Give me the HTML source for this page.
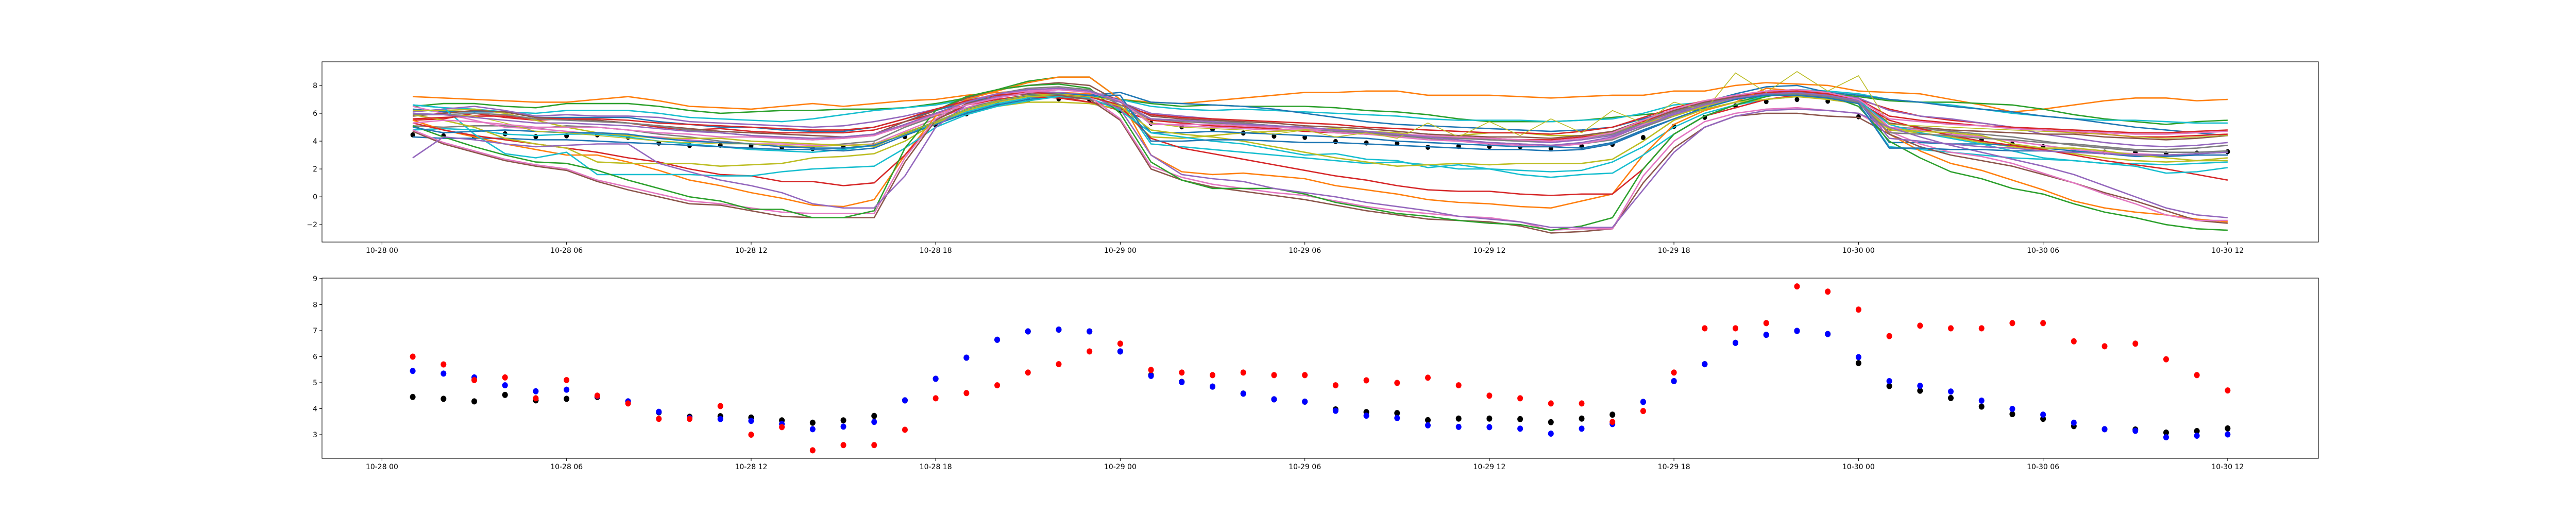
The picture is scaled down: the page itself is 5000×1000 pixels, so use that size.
<!DOCTYPE html>
<html><head><meta charset="utf-8">
<style>
html,body{margin:0;padding:0;background:#fff;}
svg{display:block;font-family:"DejaVu Sans","Liberation Sans",sans-serif;}
</style></head>
<body>
<svg id="chart" width="5000" height="1000" viewBox="0 0 5000 1000" xmlns="http://www.w3.org/2000/svg">
<rect x="0" y="0" width="5000" height="1000" fill="#fff"/>
<g id="top"></g>
<g id="bot"></g>
</svg>
<script>
// ---- data ----
const xTickLabels = ["10-28 00","10-28 06","10-28 12","10-28 18","10-29 00","10-29 06","10-29 12","10-29 18","10-30 00","10-30 06","10-30 12"];
const xTickHours = [0,6,12,18,24,30,36,42,48,54,60];
const hours = Array.from({length:60},(_,i)=>i+1); // 10-28 01 .. 10-30 12 hourly
const topYTicks = [-2,0,2,4,6,8];
const botYTicks = [3,4,5,6,7,8,9];

const meanValues = [4.45,4.38,4.28,4.53,4.32,4.38,4.45,4.28,3.86,3.69,3.71,3.66,3.55,3.46,3.55,3.72,4.32,5.15,5.96,6.65,6.97,7.04,6.97,6.2,5.29,5.03,4.85,4.58,4.36,4.27,3.97,3.87,3.83,3.56,3.62,3.62,3.6,3.48,3.62,3.77,4.26,5.06,5.71,6.53,6.84,6.99,6.87,5.75,4.87,4.69,4.41,4.08,3.79,3.61,3.33,3.21,3.2,3.08,3.14,3.24];
const blueValues = [5.45,5.35,5.2,4.9,4.67,4.73,4.48,4.28,3.88,3.64,3.6,3.53,3.41,3.21,3.31,3.49,4.32,5.15,5.96,6.65,6.97,7.04,6.97,6.2,5.26,5.02,4.85,4.58,4.36,4.27,3.92,3.73,3.64,3.36,3.3,3.29,3.23,3.04,3.23,3.41,4.26,5.06,5.71,6.53,6.84,6.99,6.87,5.98,5.06,4.88,4.66,4.31,3.99,3.77,3.46,3.21,3.15,2.9,2.96,3.01];
const redValues = [6.0,5.7,5.1,5.2,4.4,5.1,4.5,4.2,3.61,3.61,4.1,3.0,3.29,2.4,2.6,2.6,3.19,4.4,4.6,4.9,5.39,5.71,6.2,6.5,5.49,5.39,5.29,5.39,5.29,5.29,4.9,5.09,4.99,5.19,4.9,4.5,4.4,4.2,4.2,3.49,3.91,5.39,7.09,7.09,7.29,8.7,8.5,7.81,6.79,7.19,7.09,7.09,7.29,7.29,6.59,6.4,6.5,5.9,5.29,4.7];

const s01 = [7.2,7.1,7.0,6.9,6.8,6.8,7.0,7.2,6.9,6.5,6.4,6.3,6.5,6.7,6.5,6.7,6.9,7.0,7.3,7.5,7.6,7.5,7.4,7.0,6.8,6.7,6.9,7.1,7.3,7.5,7.5,7.6,7.6,7.3,7.3,7.3,7.2,7.1,7.2,7.3,7.3,7.6,7.6,8.0,8.2,8.1,8.0,7.6,7.5,7.4,7.0,6.6,6.1,6.3,6.6,6.9,7.1,7.1,6.9,7.0];
const s02 = [6.5,6.7,6.7,6.5,6.4,6.7,6.7,6.7,6.5,6.2,6.0,6.1,6.2,6.2,6.3,6.3,6.4,6.7,7.1,7.7,8.3,8.6,8.6,7.0,6.7,6.5,6.6,6.5,6.5,6.5,6.4,6.2,6.1,5.9,5.6,5.4,5.4,5.4,5.5,5.7,5.9,6.1,6.3,6.8,7.3,7.5,7.4,7.2,6.9,6.8,6.8,6.7,6.6,6.3,5.9,5.6,5.4,5.2,5.4,5.5];
const s03 = [6.6,6.4,6.3,6.1,6.0,6.2,6.2,6.2,6.0,5.7,5.6,5.5,5.4,5.6,5.9,6.2,6.4,6.6,7.0,7.3,7.5,7.4,7.2,7.0,6.5,6.3,6.2,6.3,6.2,6.1,6.0,5.9,5.8,5.6,5.5,5.5,5.5,5.4,5.5,5.6,6.0,6.6,6.8,7.2,7.6,7.7,7.6,7.4,7.0,6.8,6.6,6.3,6.0,5.8,5.6,5.5,5.5,5.4,5.3,5.3];
const s04 = [6.3,6.1,6.1,6.1,5.7,5.7,5.7,5.7,5.4,5.2,5.0,5.0,4.8,4.7,4.7,5.0,5.6,6.2,6.8,7.2,7.4,7.2,7.3,7.5,6.8,6.7,6.6,6.5,6.3,6.0,5.7,5.4,5.2,5.1,5.0,4.9,4.8,4.7,4.8,5.0,5.6,6.2,6.8,7.4,7.9,8.0,7.5,7.3,7.0,6.8,6.5,6.3,6.1,5.8,5.6,5.3,5.0,4.8,4.6,4.4];
const s05 = [5.5,5.6,6.0,5.7,5.5,5.6,5.5,5.3,5.0,4.8,4.9,4.7,4.6,4.6,4.6,4.8,5.4,6.0,6.6,7.0,7.3,7.2,6.8,6.2,5.5,5.3,5.1,5.0,4.9,4.7,4.6,4.5,4.4,4.3,4.2,4.2,4.1,4.1,4.3,4.6,5.4,6.2,6.8,7.3,7.6,7.7,7.5,7.0,6.3,5.8,5.5,5.3,5.0,4.8,4.6,4.5,4.3,4.3,4.4,4.5];
const s06 = [6.1,6.3,6.5,6.2,5.8,5.9,5.8,5.8,5.7,5.4,5.3,5.2,5.1,5.0,5.1,5.4,5.8,6.3,6.9,7.4,7.6,7.5,7.3,6.8,6.0,5.8,5.6,5.3,5.1,4.9,4.8,4.6,4.5,4.4,4.2,4.1,4.0,3.9,4.1,4.4,5.2,6.0,6.7,7.2,7.4,7.6,7.4,7.1,6.2,5.8,5.6,5.3,5.0,4.5,4.2,3.9,3.7,3.6,3.7,3.9];
const s07 = [5.1,5.0,5.1,5.1,4.9,5.1,5.0,4.8,4.5,4.3,4.0,3.8,3.6,3.6,3.8,4.0,5.0,5.8,6.4,6.9,7.2,7.2,7.0,6.4,5.6,5.4,5.3,5.2,5.0,4.9,4.7,4.6,4.4,4.2,4.0,3.9,3.8,3.7,3.8,4.1,5.0,5.8,6.5,7.0,7.3,7.4,7.2,6.8,5.0,4.9,4.7,4.5,4.3,4.0,3.7,3.5,3.3,3.2,3.2,3.3];
const s08 = [6.5,6.0,5.5,5.0,4.9,4.7,4.5,4.4,4.3,4.1,3.9,3.8,3.8,3.7,3.7,3.8,4.7,5.6,6.4,7.1,7.6,7.8,7.6,7.0,5.3,5.1,5.0,4.9,4.8,4.8,4.6,4.5,4.3,4.1,4.0,3.8,3.7,3.6,3.8,4.2,5.2,6.1,6.8,7.2,7.5,7.6,7.4,7.0,5.0,4.8,4.5,4.3,4.0,3.7,3.4,3.2,3.1,3.0,3.0,3.0];
const s09 = [6.2,6.2,6.3,6.0,5.5,5.0,4.6,4.4,4.2,4.2,4.2,4.0,3.9,3.8,3.7,3.6,4.6,5.4,6.0,6.5,6.8,6.8,6.7,6.3,4.3,4.2,4.4,4.6,4.7,4.8,4.9,4.7,4.6,4.3,4.4,4.6,4.6,4.4,4.4,4.6,5.3,5.8,6.5,7.0,7.3,7.3,7.0,6.7,4.8,4.6,4.3,3.9,3.6,3.4,3.1,2.8,2.6,2.5,2.6,2.8];
const s10 = [4.8,4.9,4.8,4.5,4.4,4.5,4.5,4.3,4.0,3.8,3.6,3.4,3.3,3.2,3.4,3.7,4.5,5.3,6.1,6.7,7.1,7.3,7.3,7.0,3.8,3.6,3.4,3.2,3.0,2.8,2.6,2.4,2.5,2.3,2.0,2.0,1.9,1.8,1.9,2.5,3.6,5.0,6.0,6.6,7.0,7.2,7.1,6.7,3.6,3.4,3.2,3.0,2.8,2.7,2.6,2.4,2.4,2.3,2.4,2.5];
const s11 = [4.3,4.2,4.2,4.2,4.1,4.1,4.0,3.9,3.8,3.7,3.6,3.5,3.4,3.4,3.3,3.5,4.4,5.2,6.0,6.6,7.0,7.2,7.2,7.0,4.6,4.6,4.7,4.6,4.5,4.4,4.3,4.2,4.0,3.9,3.8,3.7,3.6,3.6,3.5,3.9,4.8,5.6,6.4,7.0,7.4,7.4,7.2,6.9,3.9,3.9,3.8,3.8,3.7,3.5,3.3,3.1,2.9,2.9,3.0,3.0];
const s12 = [5.8,6.0,6.2,6.1,5.7,5.6,5.5,5.3,5.1,4.9,4.7,4.6,4.5,4.4,4.3,4.5,5.4,6.2,7.1,7.7,8.0,8.2,8.0,6.8,5.8,5.6,5.5,5.4,5.3,5.1,5.0,4.9,4.7,4.5,4.4,4.3,4.3,4.2,4.4,4.7,5.5,6.2,6.8,7.2,7.4,7.5,7.3,6.9,5.3,5.0,4.8,4.7,4.6,4.5,4.5,4.3,4.2,4.1,4.2,4.4];
const s13 = [5.5,4.8,4.3,3.8,3.4,3.0,3.0,2.5,1.9,1.2,0.8,0.3,-0.1,-0.6,-0.7,-0.2,3.0,5.8,7.0,7.6,8.2,8.6,8.6,7.0,3.0,1.8,1.6,1.7,1.5,1.3,0.8,0.5,0.2,-0.2,-0.4,-0.5,-0.7,-0.8,-0.3,0.2,3.0,5.2,6.2,6.8,7.8,7.6,7.5,6.8,4.5,3.3,2.4,1.9,1.2,0.5,-0.3,-0.8,-1.1,-1.3,-1.6,-1.8];
const s14 = [5.3,4.8,4.4,4.1,3.8,3.5,3.2,2.8,2.5,2.0,1.6,1.5,1.1,1.1,0.8,1.0,3.0,5.5,6.6,7.0,7.2,7.1,6.8,6.5,4.2,3.5,3.1,2.7,2.3,1.9,1.5,1.2,0.8,0.5,0.4,0.4,0.2,0.1,0.2,0.2,2.0,4.5,5.8,6.4,7.0,7.3,7.2,6.8,5.5,4.9,4.4,4.0,3.7,3.4,3.0,2.6,2.3,2.0,1.6,1.2];
const s15 = [6.6,6.4,4.5,3.1,2.8,3.2,1.6,1.6,1.6,1.6,1.5,1.5,1.8,2.0,2.1,2.2,3.5,5.0,5.9,6.5,6.9,7.2,7.1,6.2,4.6,4.3,4.0,3.8,3.4,3.0,3.1,2.7,2.6,2.1,2.3,2.0,1.6,1.4,1.6,1.7,3.0,4.5,5.8,6.6,7.3,7.5,7.3,6.9,5.2,4.6,4.2,3.8,3.3,2.8,2.6,2.4,2.2,1.7,1.8,2.1];
const s16 = [5.9,5.5,5.0,4.2,3.8,3.5,2.5,2.4,2.4,2.4,2.2,2.3,2.4,2.8,2.9,3.1,4.0,5.3,6.2,6.8,7.2,7.3,7.2,6.5,4.8,4.5,4.3,4.0,3.6,3.2,2.8,2.5,2.2,2.3,2.4,2.3,2.4,2.4,2.4,2.7,4.0,5.5,6.3,6.8,7.0,7.2,7.0,6.7,4.9,4.7,4.6,4.4,3.8,3.5,3.5,3.3,3.0,2.8,2.6,2.6];
const s17 = [4.7,3.8,3.2,2.6,2.2,1.9,1.1,0.5,0.0,-0.5,-0.6,-1.0,-1.4,-1.5,-1.5,-1.5,2.5,5.5,6.7,7.2,7.4,7.3,7.0,5.5,2.0,1.2,0.7,0.4,0.1,-0.2,-0.6,-1.0,-1.3,-1.6,-1.7,-1.8,-2.1,-2.6,-2.5,-2.3,1.0,3.5,5.0,5.8,6.0,6.0,5.8,5.7,4.5,3.6,3.0,2.6,2.2,1.6,1.0,0.3,-0.3,-1.0,-1.7,-1.9];
const s18 = [4.8,3.9,3.3,2.7,2.3,2.0,1.2,0.7,0.2,-0.3,-0.5,-0.8,-1.1,-1.2,-1.2,-1.2,2.8,5.6,6.9,7.4,7.6,7.5,7.2,5.6,2.2,1.4,0.9,0.6,0.3,0.1,-0.3,-0.7,-1.0,-1.2,-1.4,-1.5,-1.8,-2.4,-2.3,-2.3,1.5,4.0,5.4,6.0,6.3,6.4,6.2,6.0,4.7,3.8,3.2,2.9,2.4,1.7,1.0,0.2,-0.5,-1.3,-1.7,-1.7];
const s19 = [5.1,4.3,3.6,3.0,2.5,2.4,1.9,1.2,0.6,0.0,-0.3,-0.9,-0.9,-1.5,-1.5,-1.0,3.5,6.2,7.2,7.7,8.0,8.1,7.8,6.0,2.5,1.2,0.6,0.6,0.6,0.2,-0.4,-0.8,-1.2,-1.4,-1.7,-1.9,-2.0,-2.4,-2.1,-1.5,2.0,4.5,5.8,6.6,7.2,7.6,7.3,6.5,4.0,2.8,1.8,1.3,0.6,0.2,-0.5,-1.1,-1.5,-2.0,-2.3,-2.4];
const s20 = [2.8,4.3,4.1,3.8,3.6,3.7,3.8,3.8,2.4,1.8,1.2,0.8,0.3,-0.5,-0.8,-0.8,1.5,5.0,6.6,7.2,7.5,7.5,7.3,6.3,3.0,1.6,1.3,1.1,0.6,0.3,0.0,-0.4,-0.7,-1.0,-1.4,-1.6,-1.8,-2.2,-2.2,-2.2,0.5,3.2,5.0,5.8,6.2,6.3,6.2,6.0,5.0,4.3,3.7,3.2,2.7,2.2,1.6,0.8,0.0,-0.8,-1.3,-1.5];
const s21 = [5.6,5.7,5.8,5.8,5.6,5.6,5.6,5.5,5.3,5.2,5.1,5.0,4.9,4.8,4.8,5.0,5.6,6.3,6.9,7.3,7.5,7.4,7.2,6.6,5.9,5.7,5.6,5.5,5.4,5.3,5.2,5.0,4.9,4.8,4.7,4.6,4.6,4.5,4.7,5.0,5.7,6.4,6.9,7.3,7.5,7.6,7.4,7.0,5.8,5.5,5.3,5.1,5.0,4.9,4.8,4.7,4.6,4.6,4.7,4.8];
const s22 = [5.9,5.9,6.0,5.9,5.6,5.5,5.4,5.3,5.1,4.8,4.6,4.4,4.2,4.1,4.2,4.4,5.2,6.0,6.8,7.4,7.8,7.9,7.7,6.6,5.6,5.5,5.4,5.3,5.1,5.0,4.8,4.6,4.4,4.3,4.2,4.1,4.0,4.0,4.2,4.5,5.3,6.1,6.7,7.1,7.4,7.4,7.2,6.8,4.6,4.5,4.4,4.2,4.1,3.9,3.8,3.6,3.4,3.4,3.5,3.7];
const s23 = [5.0,4.6,4.7,4.8,4.7,4.6,4.6,4.5,4.2,4.0,3.9,3.8,3.6,3.5,3.5,3.7,4.5,5.4,6.3,6.9,7.3,7.4,7.3,7.3,4.0,4.0,4.1,4.1,4.0,3.9,3.9,3.8,3.7,3.6,3.5,3.4,3.4,3.3,3.4,3.8,4.7,5.6,6.4,7.0,7.3,7.3,7.1,6.7,3.5,3.5,3.4,3.4,3.3,3.3,3.2,3.1,3.0,3.0,3.1,3.2];
const s24 = [6.0,5.9,5.8,5.3,4.7,4.6,4.4,4.2,4.0,3.9,3.8,3.8,3.7,3.6,3.7,3.8,4.5,5.4,6.3,6.9,7.3,7.4,7.2,6.9,5.3,5.0,4.9,4.8,4.5,4.8,4.3,4.6,4.2,5.3,4.3,5.4,4.4,5.6,4.6,6.2,5.3,6.8,6.2,8.9,7.5,9.0,7.6,8.7,5.2,5.1,5.0,4.9,4.8,4.7,4.6,4.5,4.3,4.2,4.3,4.4];
const s25 = [5.3,5.5,5.4,5.2,5.0,5.0,5.0,4.8,4.6,4.5,4.3,4.3,4.2,4.1,4.2,4.4,5.1,5.9,6.6,7.1,7.5,7.7,7.5,6.9,5.2,5.2,5.2,5.1,5.0,4.9,4.8,4.7,4.5,4.4,4.3,4.2,4.1,4.0,4.2,4.6,5.5,6.3,6.9,7.3,7.6,7.7,7.5,7.0,5.6,5.4,5.2,5.1,4.9,4.8,4.7,4.6,4.5,4.5,4.6,4.7];
const s26 = [6.0,5.9,5.7,5.5,5.3,5.3,5.2,5.1,4.9,4.7,4.6,4.4,4.3,4.2,4.3,4.5,5.2,6.0,6.8,7.4,7.7,7.8,7.6,6.8,5.6,5.5,5.4,5.2,5.1,5.0,4.8,4.7,4.5,4.3,4.1,3.9,3.8,3.7,3.9,4.3,5.1,5.9,6.6,7.1,7.4,7.5,7.3,6.9,4.2,4.0,3.8,3.6,3.5,3.3,3.2,3.1,3.0,3.0,3.1,3.2];
const lineSeries = [s01,s02,s03,s04,s05,s06,s07,s08,s09,s10,s11,s12,s13,s14,s15,s16,s17,s18,s19,s20,s21,s22,s23,s24,s25,s26];
const lineColors = ["#ff7f0e","#2ca02c","#17becf","#1f77b4","#d62728","#9467bd","#7f7f7f","#e377c2","#bcbd22","#17becf","#1f77b4","#8c564b","#ff7f0e","#d62728","#17becf","#bcbd22","#8c564b","#e377c2","#2ca02c","#9467bd","#d62728","#7f7f7f","#1f77b4","#bcbd22","#e377c2","#9467bd"];
const lineWidths = [2.6,2.6,2.6,2.6,2.6,2.6,2.6,2.6,2.6,2.6,2.6,2.6,2.6,2.6,2.6,2.6,2.6,2.6,2.6,2.6,2.6,2.6,2.6,1.6,2.6,2.6];

// ---- layout ----
const NS = "http://www.w3.org/2000/svg";
const L = 625, R = 4500;
const xMin = -1.95, xMax = 62.95;
const xs = h => L + (h - xMin) / (xMax - xMin) * (R - L);
const topBox = {t:120, b:470, min:-3.25, max:9.7};
const botBox = {t:540, b:890, min:2.09, max:9.02};
const ys = (box, v) => box.b - (v - box.min) / (box.max - box.min) * (box.b - box.t);

function el(tag, attrs, parent){
  const e = document.createElementNS(NS, tag);
  for (const k in attrs) e.setAttribute(k, attrs[k]);
  parent.appendChild(e);
  return e;
}

function axes(g, box, yTicks, prefix){
  xTickHours.forEach((h, i) => {
    const x = xs(h);
    const t = el("line", {x1:x, x2:x, y1:box.b, y2:box.b+5, stroke:"#000", "stroke-width":1.1}, g);
    
    
    const lb = el("text", {x:x, y:box.b+21, "font-size":14, "text-anchor":"middle", fill:"#000"}, g);
    lb.textContent = xTickLabels[i];
    
    
  });
  yTicks.forEach(v => {
    const y = ys(box, v);
    const t = el("line", {x1:L-5, x2:L, y1:y, y2:y, stroke:"#000", "stroke-width":1.1}, g);
    
    
    const lb = el("text", {x:L-9, y:y+5, "font-size":14, "text-anchor":"end", fill:"#000"}, g);
    lb.textContent = v < 0 ? "\u2212" + Math.abs(v) : String(v);
    
    
  });
  const fr = el("rect", {x:L, y:box.t, width:R-L, height:box.b-box.t, fill:"none", stroke:"#000", "stroke-width":1.1}, g);
  
  
}

const gTop = document.getElementById("top");
const gBot = document.getElementById("bot");

// top: mean dots first (partially hidden under lines)
meanValues.forEach((v, i) => {
  const c = el("ellipse", {cx:xs(hours[i]), cy:ys(topBox, v), rx:4.5, ry:5, fill:"#000"}, gTop);
  
  
});
lineSeries.forEach((s, k) => {
  const d = s.map((v, i) => (i ? "L" : "M") + xs(hours[i]).toFixed(1) + "," + ys(topBox, v).toFixed(1)).join("");
  const p = el("path", {d:d, fill:"none", stroke:lineColors[k % lineColors.length], "stroke-width":lineWidths[k], "stroke-linejoin":"round"}, gTop);
  
  
});
axes(gTop, topBox, topYTicks, "top");

// bottom scatter
[[meanValues,"#000","mean"],[blueValues,"#0000ff","blue"],[redValues,"#ff0000","red"]].forEach(([arr, col, nm]) => {
  arr.forEach((v, i) => {
    const c = el("ellipse", {cx:xs(hours[i]), cy:ys(botBox, v), rx:5.5, ry:6, fill:col}, gBot);
    
    
  });
});
axes(gBot, botBox, botYTicks, "bottom");
</script>
</body></html>
